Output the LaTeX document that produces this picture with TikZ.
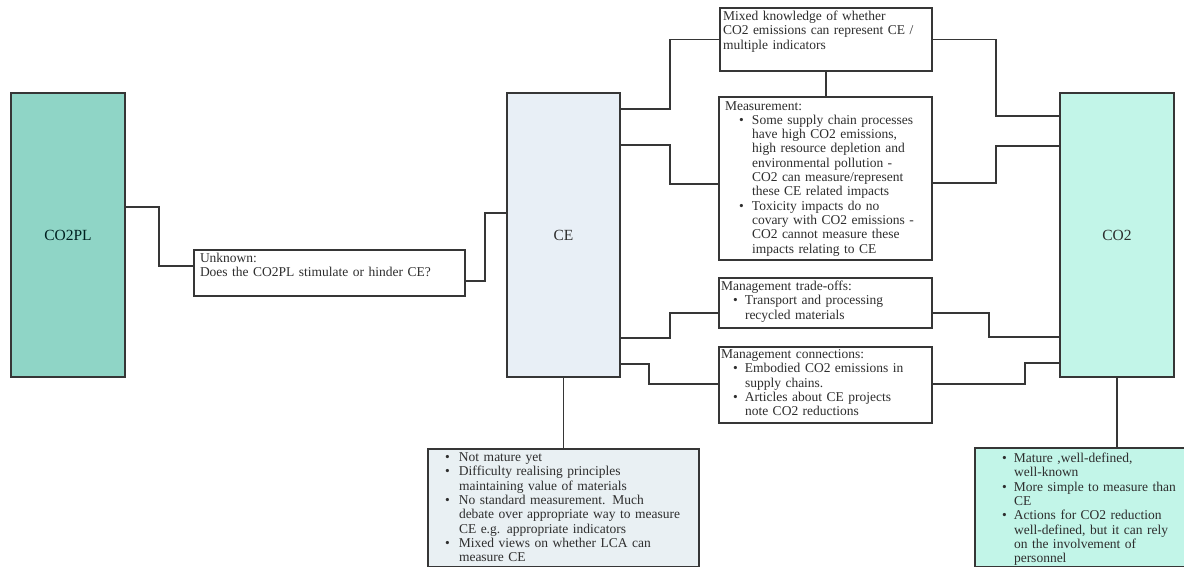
\documentclass[tikz,border=0pt]{standalone}
\usepackage{fontspec}
\setmainfont{Liberation Serif}
\definecolor{lineC}{HTML}{363636}
\definecolor{txtC}{HTML}{2E2E2E}
\definecolor{tealA}{HTML}{8FD5C6}
\definecolor{mintA}{HTML}{C2F5E8}
\definecolor{ceblue}{HTML}{E8EFF6}
\definecolor{blgray}{HTML}{E9F0F3}
\newcommand{\mainfs}{\fontsize{13.5}{14.3}\selectfont}
\newcommand{\labfs}{\fontsize{15.5}{17}\selectfont}
% bullet at #1, text at #2
\newcommand{\bu}[2]{\hspace*{#1}\makebox[\dimexpr#2-#1\relax][l]{\textbullet}}
\newcommand{\ci}[1]{\hspace*{#1}}
\tikzset{
  box/.style={draw=lineC, line width=1.3pt, inner sep=0pt, outer sep=0pt, anchor=north west, text=txtC, font=\labfs},
  conn/.style={draw=lineC, line width=1.3pt},
  txt/.style={inner sep=0pt, outer sep=0pt, anchor=north west, align=left, text=txtC, font=\mainfs},
}
\begin{document}
\begin{tikzpicture}[x=1pt,y=-1pt]
\useasboundingbox (0,0) rectangle (1184,568);
% boxes
\node[box, minimum width=114pt, minimum height=284pt, fill=tealA, text=black!75!teal] (co2pl) at (11,93) {CO2PL};
\node[box, minimum width=271pt, minimum height=46pt, fill=white] (unk) at (194,250) {};
\node[box, minimum width=113pt, minimum height=284pt, fill=ceblue] (ce) at (507,93) {CE};
\node[box, minimum width=212pt, minimum height=63pt, fill=white] (mixed) at (720,8) {};
\node[box, minimum width=213pt, minimum height=163pt, fill=white] (meas) at (719,97) {};
\node[box, minimum width=213pt, minimum height=50pt, fill=white] (mto) at (719,278) {};
\node[box, minimum width=213pt, minimum height=76pt, fill=white] (mcon) at (719,347) {};
\node[box, minimum width=114pt, minimum height=284pt, fill=mintA] (co2) at (1060,93) {CO2};
\node[box, minimum width=271pt, minimum height=117.5pt, fill=blgray] (bl) at (428,449) {};
\node[box, minimum width=215pt, minimum height=118.5pt, fill=mintA] (br) at (975,448) {};
% texts
\node[txt, text width=260pt] (unkT) at ([xshift=6pt,yshift=-2.5pt]unk.north west)
  {\strut Unknown:\\Does the CO2PL stimulate or hinder CE?};
\node[txt, text width=205pt] (mixedT) at ([xshift=3pt,yshift=-2.5pt]mixed.north west)
  {\strut Mixed knowledge of whether\\CO2 emissions can represent CE /\\multiple indicators};
\node[txt, text width=205pt] (measT) at ([xshift=6pt,yshift=-3pt]meas.north west)
  {\strut Measurement:\\
   \bu{14pt}{27pt}Some supply chain processes\\
   \ci{27pt}have high CO2 emissions,\\
   \ci{27pt}high resource depletion and\\
   \ci{27pt}environmental pollution -\\
   \ci{27pt}CO2 can measure/represent\\
   \ci{27pt}these CE related impacts\\
   \bu{14pt}{27pt}Toxicity impacts do no\\
   \ci{27pt}covary with CO2 emissions -\\
   \ci{27pt}CO2 cannot measure these\\
   \ci{27pt}impacts relating to CE};
\node[txt, text width=209pt] (mtoT) at ([xshift=2pt,yshift=-2.5pt]mto.north west)
  {\strut Management trade-offs:\\
   \bu{12pt}{24pt}Transport and processing\\
   \ci{24pt}recycled materials};
\node[txt, text width=209pt] (mconT) at ([xshift=2pt,yshift=-1.5pt]mcon.north west)
  {\strut Management connections:\\
   \bu{12pt}{24pt}Embodied CO2 emissions in\\
   \ci{24pt}supply chains.\\
   \bu{12pt}{24pt}Articles about CE projects\\
   \ci{24pt}note CO2 reductions};
\node[txt, text width=268pt] (blT) at ([yshift=-2.5pt]bl.north west)
  {\strut\bu{17pt}{31pt}Not mature yet\\
   \bu{17pt}{31pt}Difficulty realising principles\\
   \ci{31pt}maintaining value of materials\\
   \bu{17pt}{31pt}No standard measurement. Much\\
   \ci{31pt}debate over appropriate way to measure\\
   \ci{31pt}CE e.g. appropriate indicators\\
   \bu{17pt}{31pt}Mixed views on whether LCA can\\
   \ci{31pt}measure CE};
\node[txt, text width=205pt] (brT) at ([yshift=-4.5pt]br.north west)
  {\strut\bu{27pt}{39pt}Mature ,well-defined,\\
   \ci{39pt}well-known\\
   \bu{27pt}{39pt}More simple to measure than\\
   \ci{39pt}CE\\
   \bu{27pt}{39pt}Actions for CO2 reduction\\
   \ci{39pt}well-defined, but it can rely\\
   \ci{39pt}on the involvement of\\
   \ci{39pt}personnel};
% connectors
\draw[conn] ([yshift=28pt]co2pl.east) -- ++(34,0) |- ([yshift=7pt]unk.west);
\draw[conn] ([yshift=-8pt]unk.east) -- ++(20,0) |- ([yshift=22pt]ce.west);
\draw[conn] ([yshift=126pt]ce.east) -- ++(50,0) |- (mixed.west);
\draw[conn] ([yshift=90pt]ce.east) -- ++(50,0) |- ([yshift=-5.5pt]meas.west);
\draw[conn] ([yshift=-103pt]ce.east) -- ++(50,0) |- ([yshift=-10pt]mto.west);
\draw[conn] ([yshift=-129pt]ce.east) -- ++(29,0) |- ([yshift=1pt]mcon.west);
\draw[conn] (mixed.south) -- (mixed.south |- meas.north);
\draw[conn] (mixed.east) -- ++(64,0) |- ([yshift=119pt]co2.west);
\draw[conn] ([yshift=-4.5pt]meas.east) -- ++(64,0) |- ([yshift=89pt]co2.west);
\draw[conn] ([yshift=-10pt]mto.east) -- ++(57,0) |- ([yshift=-102pt]co2.west);
\draw[conn] ([yshift=1pt]mcon.east) -- ++(93,0) |- ([yshift=-128pt]co2.west);
\draw[conn] (ce.south) -- (ce.south |- bl.north);
\draw[conn] (co2.south) -- (co2.south |- br.north);
\end{tikzpicture}
\end{document}
